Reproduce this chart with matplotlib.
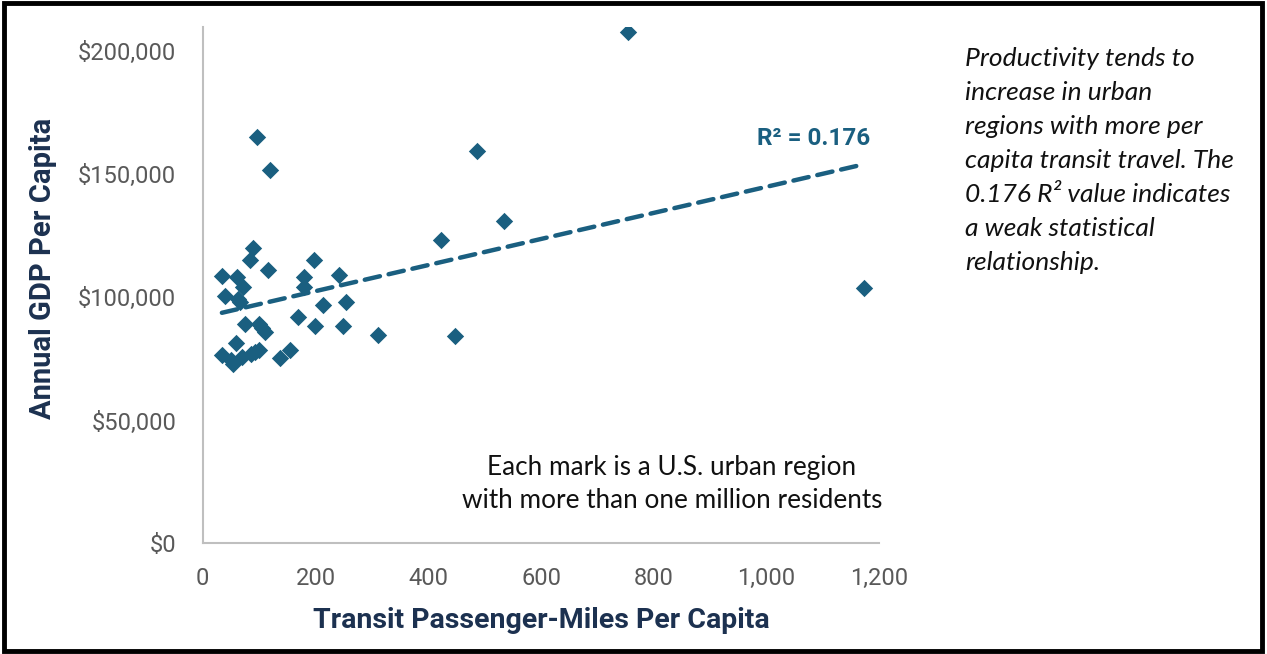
import numpy as np
import matplotlib.pyplot as plt
from matplotlib.patches import Rectangle
from matplotlib.ticker import FuncFormatter

# transit passenger-miles per capita vs annual GDP per capita (thousands $)
transit_miles = [96, 119, 89, 84, 115, 198, 34, 60, 72, 40, 66, 62, 180, 179, 242,
                 213, 254, 169, 200, 248, 75, 99, 111, 105, 59, 34, 54, 50, 69, 93,
                 99, 86, 137, 154, 423, 535, 487, 755, 311, 448, 1173]
gdp_k = [165.1, 151.9, 120.2, 115.4, 111.3, 115.4, 108.7, 108.3, 104.2, 100.6, 98.1,
         99.5, 108.3, 104.2, 109.3, 96.8, 98.1, 92.0, 88.3, 88.3, 89.1, 89.4, 86.0,
         87.5, 81.5, 76.5, 73.1, 74.5, 75.8, 77.8, 78.5, 77.0, 75.5, 78.5, 123.2,
         130.9, 159.4, 207.7, 84.6, 84.2, 103.7]
gdp = [v * 1000 for v in gdp_k]

r2_label = "R² = 0.176"
note_text = ("Productivity tends to\nincrease in urban\nregions with more per\n"
             "capita transit travel. The\n0.176 R² value indicates\n"
             "a weak statistical\nrelationship.")
mark_text = "Each mark is a U.S. urban region\nwith more than one million residents"

blue = "#1A5F80"
navy = "#1C3150"
grey = "#595959"

fig = plt.figure(figsize=(12.67, 6.54), dpi=100)
ax = fig.add_axes([0.160, 0.169, 0.534, 0.790])

ax.scatter(transit_miles, gdp, marker="D", s=78, color=blue, zorder=3, linewidths=0)

# linear trendline over data range
slope, intercept = np.polyfit(transit_miles, gdp, 1)
xs = np.array([min(transit_miles), max(transit_miles)])
ax.plot(xs, slope * xs + intercept, color=blue, lw=3.2, ls=(0, (3.5, 2)),
        dash_capstyle="round", zorder=2)

ax.set_xlim(0, 1200)
ax.set_ylim(0, 210000)
ax.set_xticks(range(0, 1201, 200))
ax.set_yticks(range(0, 200001, 50000))
ax.xaxis.set_major_formatter(FuncFormatter(lambda v, p: f"{int(v):,}"))
ax.yaxis.set_major_formatter(FuncFormatter(lambda v, p: f"${int(v):,}"))
ax.tick_params(length=0, labelsize=17, labelcolor=grey)
ax.tick_params(axis="x", pad=17)
ax.tick_params(axis="y", pad=19)
for lab in ax.get_xticklabels() + ax.get_yticklabels():
    lab.set_family("Roboto")

for s in ["top", "right"]:
    ax.spines[s].set_visible(False)
for s in ["left", "bottom"]:
    ax.spines[s].set_color("#BFBFBF")
    ax.spines[s].set_linewidth(1.5)

ax.set_xlabel("Transit Passenger-Miles Per Capita", fontsize=20.5, fontweight="bold",
              color=navy, family="Roboto", labelpad=12)
ax.set_ylabel("Annual GDP Per Capita", fontsize=21, fontweight="bold",
              color=navy, family="Roboto")
ax.yaxis.set_label_coords(-0.215, 0.533)

ax.text(1184, 160000, r2_label, ha="right", va="bottom", fontsize=17.5,
        fontweight="bold", color=blue, family="Roboto")
ax.text(832, 24000, mark_text, ha="center", va="center", fontsize=18.8,
        color="#111111", family="Lato", linespacing=1.4)

fig.text(0.762, 0.928, note_text, ha="left", va="top", fontsize=19,
         style="italic", color="#111111", family="Lato", linespacing=1.58)

fig.patches.append(Rectangle((0.003, 0.004), 0.993, 0.992, transform=fig.transFigure,
                             fill=False, edgecolor="black", lw=3.5))

fig.savefig("out.png", dpi=100)
